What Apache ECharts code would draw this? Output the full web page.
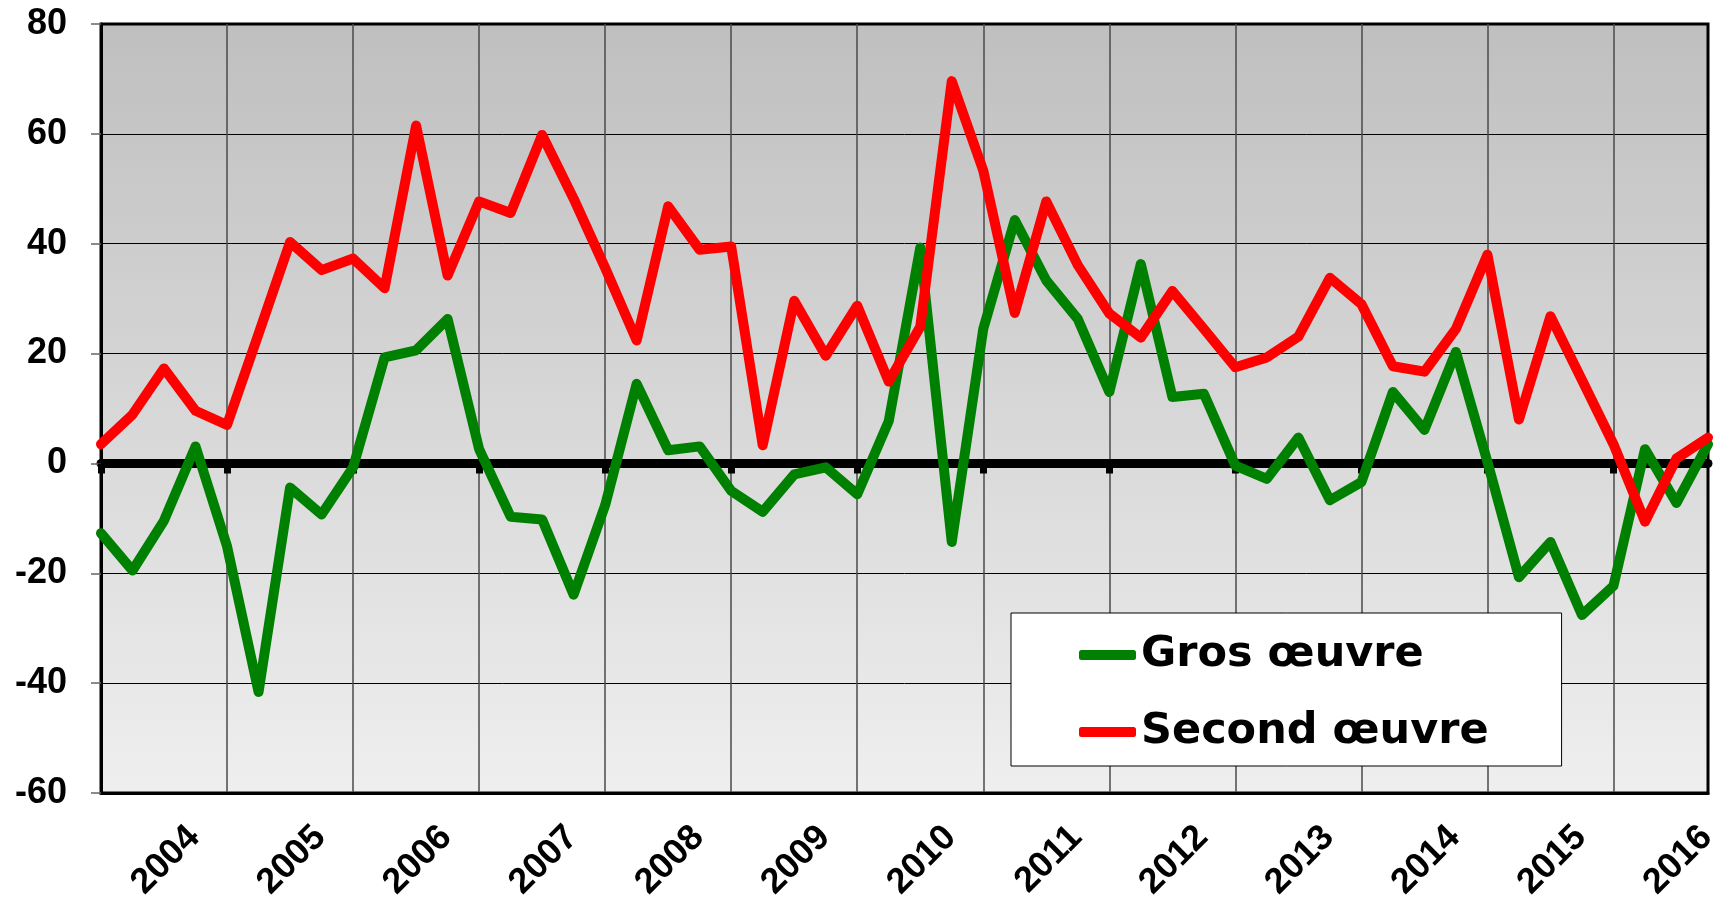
<!DOCTYPE html>
<html>
<head>
<meta charset="utf-8">
<title>Gros œuvre / Second œuvre</title>
<script src="https://cdn.jsdelivr.net/npm/echarts@6/dist/echarts.min.js"></script>
<style>
  html, body { margin: 0; padding: 0; background: #fff; }
  #chart { width: 1715px; height: 905px; }
</style>
</head>
<body>
<div id="chart"></div>
<script>
// trimestres, de 2003T2 a 2016T1
const quarters = [
  '2003T2','2003T3','2003T4',
  '2004T1','2004T2','2004T3','2004T4',
  '2005T1','2005T2','2005T3','2005T4',
  '2006T1','2006T2','2006T3','2006T4',
  '2007T1','2007T2','2007T3','2007T4',
  '2008T1','2008T2','2008T3','2008T4',
  '2009T1','2009T2','2009T3','2009T4',
  '2010T1','2010T2','2010T3','2010T4',
  '2011T1','2011T2','2011T3','2011T4',
  '2012T1','2012T2','2012T3','2012T4',
  '2013T1','2013T2','2013T3','2013T4',
  '2014T1','2014T2','2014T3','2014T4',
  '2015T1','2015T2','2015T3','2015T4',
  '2016T1'
];

const grosOeuvre = [
  -12.7, -19.5, -10.4, 3.1, -15.1, -41.6, -4.4, -9.3, -0.7, 19.3,
  20.6, 26.3, 2.6, -9.7, -10.2, -23.9, -7.6, 14.5, 2.4, 3.1,
  -5.0, -8.8, -2.0, -0.7, -5.6, 7.7, 39.3, -14.3, 24.5, 44.3,
  33.3, 26.3, 13.0, 36.3, 12.1, 12.7, -0.4, -2.8, 4.7, -6.7,
  -3.4, 13.0, 6.1, 20.3, 0.3, -20.7, -14.3, -27.6, -22.3, 2.6,
  -7.2, 3.5
];

const secondOeuvre = [
  3.5, 8.9, 17.3, 9.6, 7.0, 23.6, 40.3, 35.2, 37.3, 31.9,
  61.5, 34.2, 47.7, 45.6, 59.8, 48.2, 35.6, 22.4, 46.8, 38.9,
  39.5, 3.3, 29.6, 19.6, 28.7, 14.9, 24.9, 69.6, 53.3, 27.4,
  47.7, 36.1, 27.3, 22.9, 31.4, 24.5, 17.5, 19.3, 23.1, 33.8,
  29.0, 17.7, 16.7, 24.5, 38.0, 8.0, 26.8, 15.2, 3.5, -10.6,
  0.9, 4.7
];

const yMin = -60, yMax = 80, yStep = 20;

const chart = echarts.init(document.getElementById('chart'), null, { renderer: 'canvas' });

const labelFont = { fontFamily: 'Liberation Sans, Arial, sans-serif', fontWeight: 'bold', fontSize: 36, color: '#000' };

const option = {
  animation: false,
  backgroundColor: '#fff',
  grid: {
    left: 101, right: 7, top: 24, bottom: 112,
    containLabel: false,
    outerBoundsMode: 'none',
    show: true,
    borderColor: '#000',
    borderWidth: 3,
    backgroundColor: new echarts.graphic.LinearGradient(0, 0, 0, 1, [
      { offset: 0, color: '#bfbfbf' },
      { offset: 1, color: '#efefef' }
    ])
  },
  legend: {
    orient: 'vertical',
    left: 1011,
    top: 613,
    padding: [20, 73, 12, 68],
    itemGap: 33,
    itemWidth: 57,
    itemHeight: 10,
    icon: 'roundRect',
    backgroundColor: '#fff',
    borderColor: '#000',
    borderWidth: 1,
    textStyle: { fontFamily: 'DejaVu Sans, Verdana, sans-serif', fontWeight: 'bold', fontSize: 43, color: '#000', lineHeight: 44 },
    data: ['Gros œuvre', 'Second œuvre']
  },
  xAxis: [
    {
      type: 'category',
      data: quarters,
      boundaryGap: false,
      position: 'bottom',
      axisLine: { onZero: false, lineStyle: { color: '#000', width: 3 } },
      axisTick: { show: false },
      splitLine: {
        show: true,
        interval: function (index) { return index % 4 === 0; },
        lineStyle: { color: '#4a4a4a', width: 1.5 }
      },
      axisLabel: Object.assign({}, labelFont, {
        interval: function (index, value) { return value.endsWith('T1'); },
        formatter: function (value) { return value.slice(0, 4); },
        rotate: 45,
        align: 'right',
        verticalAlign: 'top',
        padding: [0, 20, 0, 0],
        margin: 12
      })
    },
    {
      // ligne du zero
      type: 'category',
      data: quarters,
      boundaryGap: false,
      position: 'top',
      axisLine: { onZero: true, lineStyle: { color: '#000', width: 9 } },
      axisTick: {
        show: true,
        inside: true,
        length: 10,
        interval: function (index) { return index % 4 === 0; },
        lineStyle: { color: '#000', width: 7 }
      },
      axisLabel: { show: false },
      splitLine: { show: false }
    }
  ],
  yAxis: {
    type: 'value',
    min: yMin,
    max: yMax,
    interval: yStep,
    axisLine: { show: true, lineStyle: { color: '#000', width: 3 } },
    axisTick: { show: true, length: 10, lineStyle: { color: '#666', width: 1.5 } },
    splitLine: { show: true, lineStyle: { color: '#000', width: 1 } },
    axisLabel: Object.assign({ margin: 34 }, labelFont)
  },
  series: [
    {
      name: 'Gros œuvre',
      type: 'line',
      xAxisIndex: 0,
      data: grosOeuvre,
      symbol: 'none',
      lineStyle: { color: '#008000', width: 10, join: 'round', cap: 'round' },
      itemStyle: { color: '#008000' }
    },
    {
      name: 'Second œuvre',
      type: 'line',
      xAxisIndex: 0,
      data: secondOeuvre,
      symbol: 'none',
      lineStyle: { color: '#ff0000', width: 10, join: 'round', cap: 'round' },
      itemStyle: { color: '#ff0000' }
    }
  ]
};

chart.setOption(option);
</script>
</body>
</html>
